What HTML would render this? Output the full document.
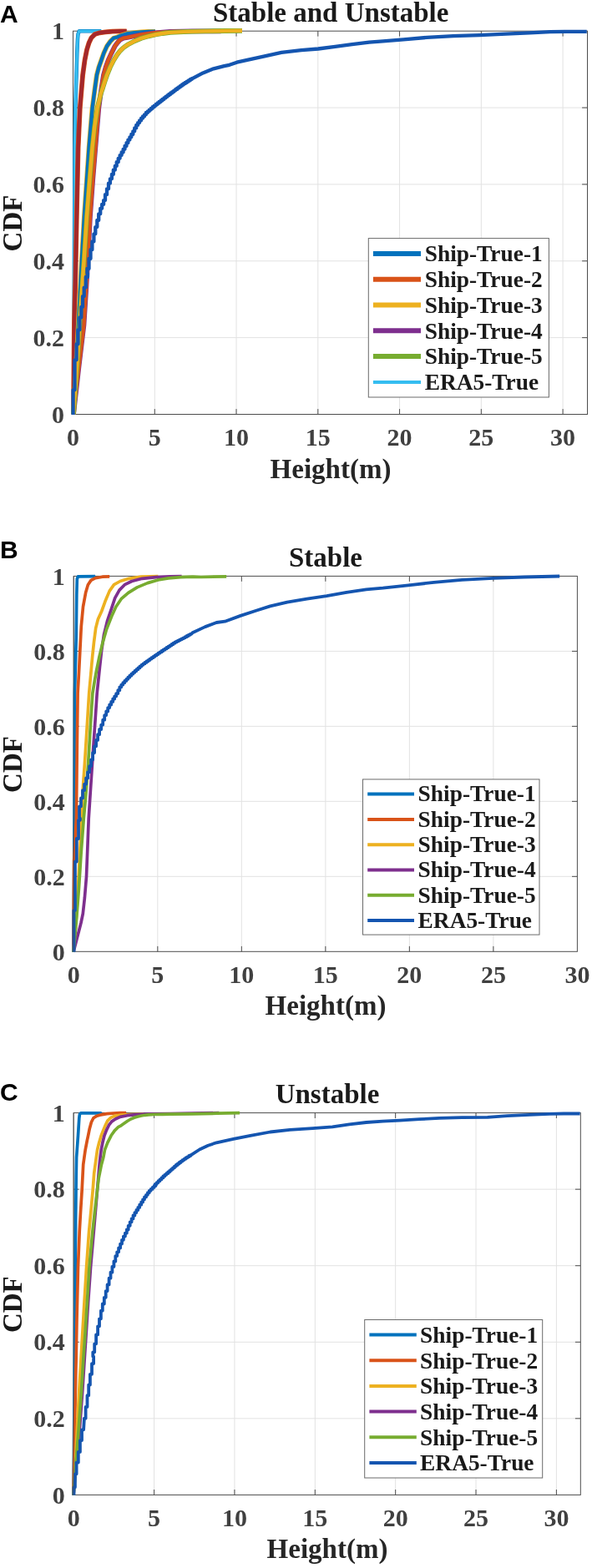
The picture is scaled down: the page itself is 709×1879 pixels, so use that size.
<!DOCTYPE html>
<html lang="en"><head><meta charset="utf-8"><title>CDF of Height</title>
<style>html,body{margin:0;padding:0;background:#fff}svg{display:block}text{font-family:'Liberation Serif', 'Times New Roman', serif;font-weight:bold}</style></head><body>
<svg width="709" height="1879" viewBox="0 0 709 1879">
<rect width="709" height="1879" fill="#fff"/>
<g id="plotA">
<line x1="185.27" y1="37.20" x2="185.27" y2="496.50" stroke="#e2e2e2" stroke-width="1"/>
<line x1="283.03" y1="37.20" x2="283.03" y2="496.50" stroke="#e2e2e2" stroke-width="1"/>
<line x1="380.80" y1="37.20" x2="380.80" y2="496.50" stroke="#e2e2e2" stroke-width="1"/>
<line x1="478.57" y1="37.20" x2="478.57" y2="496.50" stroke="#e2e2e2" stroke-width="1"/>
<line x1="576.33" y1="37.20" x2="576.33" y2="496.50" stroke="#e2e2e2" stroke-width="1"/>
<line x1="674.10" y1="37.20" x2="674.10" y2="496.50" stroke="#e2e2e2" stroke-width="1"/>
<line x1="87.50" y1="404.64" x2="703.50" y2="404.64" stroke="#e2e2e2" stroke-width="1"/>
<line x1="87.50" y1="312.78" x2="703.50" y2="312.78" stroke="#e2e2e2" stroke-width="1"/>
<line x1="87.50" y1="220.92" x2="703.50" y2="220.92" stroke="#e2e2e2" stroke-width="1"/>
<line x1="87.50" y1="129.06" x2="703.50" y2="129.06" stroke="#e2e2e2" stroke-width="1"/>
<rect x="87.50" y="37.20" width="616.00" height="459.30" fill="none" stroke="#4d4d4d" stroke-width="1"/>
<text x="87.50" y="534.00" font-size="30" text-anchor="middle" fill="#404040">0</text>
<line x1="185.27" y1="496.50" x2="185.27" y2="490.10" stroke="#4d4d4d"/>
<line x1="185.27" y1="37.20" x2="185.27" y2="43.60" stroke="#4d4d4d"/>
<text x="185.27" y="534.00" font-size="30" text-anchor="middle" fill="#404040">5</text>
<line x1="283.03" y1="496.50" x2="283.03" y2="490.10" stroke="#4d4d4d"/>
<line x1="283.03" y1="37.20" x2="283.03" y2="43.60" stroke="#4d4d4d"/>
<text x="283.03" y="534.00" font-size="30" text-anchor="middle" fill="#404040">10</text>
<line x1="380.80" y1="496.50" x2="380.80" y2="490.10" stroke="#4d4d4d"/>
<line x1="380.80" y1="37.20" x2="380.80" y2="43.60" stroke="#4d4d4d"/>
<text x="380.80" y="534.00" font-size="30" text-anchor="middle" fill="#404040">15</text>
<line x1="478.57" y1="496.50" x2="478.57" y2="490.10" stroke="#4d4d4d"/>
<line x1="478.57" y1="37.20" x2="478.57" y2="43.60" stroke="#4d4d4d"/>
<text x="478.57" y="534.00" font-size="30" text-anchor="middle" fill="#404040">20</text>
<line x1="576.33" y1="496.50" x2="576.33" y2="490.10" stroke="#4d4d4d"/>
<line x1="576.33" y1="37.20" x2="576.33" y2="43.60" stroke="#4d4d4d"/>
<text x="576.33" y="534.00" font-size="30" text-anchor="middle" fill="#404040">25</text>
<line x1="674.10" y1="496.50" x2="674.10" y2="490.10" stroke="#4d4d4d"/>
<line x1="674.10" y1="37.20" x2="674.10" y2="43.60" stroke="#4d4d4d"/>
<text x="674.10" y="534.00" font-size="30" text-anchor="middle" fill="#404040">30</text>
<text x="77.00" y="506.70" font-size="30" text-anchor="end" fill="#404040">0</text>
<line x1="87.50" y1="404.64" x2="93.90" y2="404.64" stroke="#4d4d4d"/>
<line x1="703.50" y1="404.64" x2="697.10" y2="404.64" stroke="#4d4d4d"/>
<text x="77.00" y="414.84" font-size="30" text-anchor="end" fill="#404040">0.2</text>
<line x1="87.50" y1="312.78" x2="93.90" y2="312.78" stroke="#4d4d4d"/>
<line x1="703.50" y1="312.78" x2="697.10" y2="312.78" stroke="#4d4d4d"/>
<text x="77.00" y="322.98" font-size="30" text-anchor="end" fill="#404040">0.4</text>
<line x1="87.50" y1="220.92" x2="93.90" y2="220.92" stroke="#4d4d4d"/>
<line x1="703.50" y1="220.92" x2="697.10" y2="220.92" stroke="#4d4d4d"/>
<text x="77.00" y="231.12" font-size="30" text-anchor="end" fill="#404040">0.6</text>
<line x1="87.50" y1="129.06" x2="93.90" y2="129.06" stroke="#4d4d4d"/>
<line x1="703.50" y1="129.06" x2="697.10" y2="129.06" stroke="#4d4d4d"/>
<text x="77.00" y="139.26" font-size="30" text-anchor="end" fill="#404040">0.8</text>
<text x="77.00" y="47.40" font-size="30" text-anchor="end" fill="#404040">1</text>
<g fill="none" stroke-linejoin="round" stroke-linecap="butt" clip-path="none">
<polyline points="88.0,496.3 88.9,327.0 89.5,177.0 90.3,129.3 91.5,90.0 92.3,63.9 93.0,46.9 93.5,41.0 94.8,37.2 121.2,37.2" stroke="#0072BD" stroke-width="4.5"/>
<polyline points="88.0,496.3 88.9,327.0 89.5,177.0 90.3,129.3 91.5,90.0 92.3,63.9 93.0,46.9 93.5,41.0 94.8,37.2 121.2,37.2" stroke="#35BDF0" stroke-width="3.4"/>
<polyline points="88.0,496.3 88.9,390.0 90.2,340.0 91.0,300.0 91.8,260.0 93.6,177.0 95.8,129.3 97.4,110.0 99.1,90.0 101.5,72.3 104.0,59.6 106.6,51.2 109.4,45.3 113.6,41.1 119.5,39.3 126.3,38.4 134.8,37.7 144.0,37.4 151.6,37.4" stroke="#D95319" stroke-width="5.8"/>
<polyline points="88.0,496.3 88.9,390.0 90.2,340.0 91.0,300.0 91.8,260.0 93.6,177.0 95.8,129.3 97.4,110.0 99.1,90.0 101.5,72.3 104.0,59.6 106.6,51.2 109.4,45.3 113.6,41.1 119.5,39.3 126.3,38.4 134.8,37.7 144.0,37.4 151.6,37.4" stroke="#A3282C" stroke-width="4.6"/>
<polyline points="88.0,496.3 93.3,400.0 98.0,310.0 100.9,260.0 104.0,215.0 106.6,177.0 110.6,129.3 112.1,118.0 113.8,105.0 115.9,90.0 118.3,80.8 121.3,72.3 124.2,63.9 128.0,55.4 132.2,49.5 136.0,45.7 140.3,44.5 144.4,42.8 152.5,40.4 161.0,39.1 169.4,38.4 178.0,38.0 186.0,37.8" stroke="#EDB120" stroke-width="5.8"/>
<polyline points="88.0,496.3 93.3,400.0 98.0,310.0 100.9,260.0 104.0,215.0 106.6,177.0 110.6,129.3 112.1,118.0 113.8,105.0 115.9,90.0 118.3,80.8 121.3,72.3 124.2,63.9 128.0,55.4 132.2,49.5 136.0,45.7 140.3,44.5 144.4,42.8 152.5,40.4 161.0,39.1 169.4,38.4 178.0,38.0 186.0,37.8" stroke="#0072BD" stroke-width="4.4"/>
<polyline points="88.0,496.3 94.4,440.0 100.4,390.0 103.6,340.0 105.4,310.0 107.9,260.0 111.2,215.0 114.3,177.0 118.3,129.3 120.6,112.0 124.0,90.0 126.6,80.8 129.6,72.3 133.4,63.9 137.6,55.4 140.4,51.5 143.8,47.8 148.0,45.6 152.5,45.0 161.0,43.1 169.4,41.5 178.0,40.3 186.3,39.3 194.8,38.6 204.0,37.9 230.0,37.4 264.6,37.3" stroke="#7E2F8E" stroke-width="5.8"/>
<polyline points="88.0,496.3 94.4,440.0 100.4,390.0 103.6,340.0 105.4,310.0 107.9,260.0 111.2,215.0 114.3,177.0 118.3,129.3 120.6,112.0 124.0,90.0 126.6,80.8 129.6,72.3 133.4,63.9 137.6,55.4 140.4,51.5 143.8,47.8 148.0,45.6 152.5,45.0 161.0,43.1 169.4,41.5 178.0,40.3 186.3,39.3 194.8,38.6 204.0,37.9 230.0,37.4 264.6,37.3" stroke="#D95319" stroke-width="4.4"/>
<polyline points="88.0,496.3 93.5,420.0 98.6,340.0 100.7,310.0 103.9,260.0 107.4,215.0 110.5,177.0 113.2,152.0 116.6,129.3 120.8,112.0 123.2,105.0 125.4,98.0 128.1,90.0 131.8,80.8 136.1,72.3 140.3,65.5 144.0,60.8 148.0,57.0 152.5,53.8 161.0,49.2 169.4,45.8 178.0,43.3 186.3,41.5 194.8,40.0 204.0,38.9 225.0,37.9 246.0,37.4 270.0,37.0 290.0,36.8" stroke="#77AC30" stroke-width="5.8"/>
<polyline points="88.0,496.3 93.5,420.0 98.6,340.0 100.7,310.0 103.9,260.0 107.4,215.0 110.5,177.0 113.2,152.0 116.6,129.3 120.8,112.0 123.2,105.0 125.4,98.0 128.1,90.0 131.8,80.8 136.1,72.3 140.3,65.5 144.0,60.8 148.0,57.0 152.5,53.8 161.0,49.2 169.4,45.8 178.0,43.3 186.3,41.5 194.8,40.0 204.0,38.9 225.0,37.9 246.0,37.4 270.0,37.0 290.0,36.8" stroke="#EDB120" stroke-width="4.4"/>
<polyline points="87.6,496.9 87.6,467.3 89.5,467.3 89.5,431.3 91.6,431.3 91.6,412.3 93.5,412.3 93.5,395.3 95.4,395.3 95.4,380.5 97.3,380.5 97.3,367.8 99.0,367.8 99.0,355.1 100.7,355.1 100.7,344.6 102.8,344.6 102.8,331.9 105.0,331.9 105.0,327.6 104.5,327.6 104.5,321.9 106.5,321.9 106.5,310.0 108.5,310.0 108.5,299.2 110.4,299.2 110.4,289.4 112.4,289.4 112.4,280.3 114.3,280.3 114.3,272.1 116.3,272.1 116.3,264.0 118.2,264.0 118.2,256.3 120.2,256.3 120.2,249.8 122.1,249.8 122.1,244.9 124.1,244.9 124.1,240.1 126.0,240.1 126.0,233.2 128.0,233.2 128.0,226.3 130.0,226.3 130.0,219.7 131.9,219.7 131.9,214.3 133.9,214.3 133.9,208.9 135.8,208.9 135.8,203.7 137.8,203.7 137.8,198.9 139.7,198.9 139.7,194.2 141.7,194.2 141.7,189.8 143.6,189.8 143.6,186.1 145.6,186.1 145.6,182.5 147.6,182.5 147.6,178.8 149.5,178.8 149.5,175.0 151.5,175.0 151.5,171.2 153.4,171.2 153.4,167.6 155.4,167.6 155.4,164.3 157.3,164.3 157.3,161.0 159.3,161.0 159.3,157.3 161.2,157.3 161.2,153.4 163.2,153.4 163.2,149.9 165.1,149.9 165.1,147.1 167.1,147.1 167.1,144.3 169.1,144.3 169.1,141.7 171.0,141.7 171.0,139.5 173.0,139.5 173.0,137.3 174.9,137.3 174.9,135.0 176.9,135.0 176.9,133.3 178.8,133.3 178.8,131.6 180.8,131.6 180.8,129.9 182.7,129.9 182.7,128.2 184.7,128.2 184.7,126.6 186.7,126.6 186.7,125.0 188.6,125.0 188.6,123.5 190.6,123.5 190.6,122.0 192.5,122.0 192.5,120.5 194.5,120.5 194.5,119.0 196.4,119.0 196.4,117.4 198.4,117.4 198.4,115.9 200.3,115.9 200.3,114.4 202.3,114.4 202.3,113.0 204.2,113.0 204.2,111.5 206.2,111.5 206.2,110.1 208.2,110.1 208.2,108.6 210.1,108.6 210.1,107.2 212.1,107.2 212.1,105.7 214.0,105.7 214.0,104.3 216.0,104.3 216.0,102.9 217.9,102.9 217.9,101.5 219.9,101.5 219.9,100.2 221.8,100.2 221.8,99.0 223.8,99.0 223.8,97.7 225.8,97.7 225.8,96.4 227.7,96.4 227.7,95.1 229.7,95.1 229.7,94.2 230.4,94.2 243.1,87.4 255.8,82.3 268.5,79.1 274.8,77.8 283.7,74.7 295.0,72.1 316.8,67.3 337.1,62.9 360.8,60.2 381.1,58.5 401.4,55.8 421.7,53.1 442.1,50.7 458.6,49.3 483.2,47.4 511.3,44.9 542.9,43.2 574.5,42.1 606.1,40.7 634.2,39.3 658.8,38.2 676.3,37.9 702.7,37.9" stroke="#1455B0" stroke-width="4.3"/>
</g>
<text x="396.20" y="25.60" font-size="33" text-anchor="middle" fill="#1a1a1a">Stable and Unstable</text>
<text x="396.00" y="572.80" font-size="33" text-anchor="middle" fill="#262626">Height(m)</text>
<text transform="translate(26.00 267.55) rotate(-90)" font-size="33" text-anchor="middle" fill="#1a1a1a">CDF</text>
<text x="0.00" y="26.90" font-size="30" fill="#000" style="font-family:'Liberation Sans', Arial, sans-serif">A</text>
<rect x="441.30" y="285.60" width="216.10" height="190.40" fill="#fff" stroke="#6a6a6a" stroke-width="1"/>
<line x1="446.90" y1="303.90" x2="504.00" y2="303.90" stroke="#0072BD" stroke-width="6"/>
<text x="508.70" y="313.20" font-size="27.4" fill="#1a1a1a">Ship-True-1</text>
<line x1="446.90" y1="334.70" x2="504.00" y2="334.70" stroke="#D95319" stroke-width="6"/>
<text x="508.70" y="344.00" font-size="27.4" fill="#1a1a1a">Ship-True-2</text>
<line x1="446.90" y1="365.50" x2="504.00" y2="365.50" stroke="#EDB120" stroke-width="6"/>
<text x="508.70" y="374.80" font-size="27.4" fill="#1a1a1a">Ship-True-3</text>
<line x1="446.90" y1="396.30" x2="504.00" y2="396.30" stroke="#7E2F8E" stroke-width="6"/>
<text x="508.70" y="405.60" font-size="27.4" fill="#1a1a1a">Ship-True-4</text>
<line x1="446.90" y1="427.10" x2="504.00" y2="427.10" stroke="#77AC30" stroke-width="6"/>
<text x="508.70" y="436.40" font-size="27.4" fill="#1a1a1a">Ship-True-5</text>
<line x1="446.90" y1="457.90" x2="504.00" y2="457.90" stroke="#35BDF0" stroke-width="4"/>
<text x="508.70" y="467.20" font-size="27.4" fill="#1a1a1a">ERA5-True</text>
</g>
<g id="plotB">
<line x1="188.82" y1="690.40" x2="188.82" y2="1140.30" stroke="#e2e2e2" stroke-width="1"/>
<line x1="289.33" y1="690.40" x2="289.33" y2="1140.30" stroke="#e2e2e2" stroke-width="1"/>
<line x1="389.85" y1="690.40" x2="389.85" y2="1140.30" stroke="#e2e2e2" stroke-width="1"/>
<line x1="490.37" y1="690.40" x2="490.37" y2="1140.30" stroke="#e2e2e2" stroke-width="1"/>
<line x1="590.88" y1="690.40" x2="590.88" y2="1140.30" stroke="#e2e2e2" stroke-width="1"/>
<line x1="88.30" y1="1050.32" x2="691.40" y2="1050.32" stroke="#e2e2e2" stroke-width="1"/>
<line x1="88.30" y1="960.34" x2="691.40" y2="960.34" stroke="#e2e2e2" stroke-width="1"/>
<line x1="88.30" y1="870.36" x2="691.40" y2="870.36" stroke="#e2e2e2" stroke-width="1"/>
<line x1="88.30" y1="780.38" x2="691.40" y2="780.38" stroke="#e2e2e2" stroke-width="1"/>
<rect x="88.30" y="690.40" width="603.10" height="449.90" fill="none" stroke="#4d4d4d" stroke-width="1"/>
<text x="88.30" y="1177.80" font-size="30" text-anchor="middle" fill="#404040">0</text>
<line x1="188.82" y1="1140.30" x2="188.82" y2="1133.90" stroke="#4d4d4d"/>
<line x1="188.82" y1="690.40" x2="188.82" y2="696.80" stroke="#4d4d4d"/>
<text x="188.82" y="1177.80" font-size="30" text-anchor="middle" fill="#404040">5</text>
<line x1="289.33" y1="1140.30" x2="289.33" y2="1133.90" stroke="#4d4d4d"/>
<line x1="289.33" y1="690.40" x2="289.33" y2="696.80" stroke="#4d4d4d"/>
<text x="289.33" y="1177.80" font-size="30" text-anchor="middle" fill="#404040">10</text>
<line x1="389.85" y1="1140.30" x2="389.85" y2="1133.90" stroke="#4d4d4d"/>
<line x1="389.85" y1="690.40" x2="389.85" y2="696.80" stroke="#4d4d4d"/>
<text x="389.85" y="1177.80" font-size="30" text-anchor="middle" fill="#404040">15</text>
<line x1="490.37" y1="1140.30" x2="490.37" y2="1133.90" stroke="#4d4d4d"/>
<line x1="490.37" y1="690.40" x2="490.37" y2="696.80" stroke="#4d4d4d"/>
<text x="490.37" y="1177.80" font-size="30" text-anchor="middle" fill="#404040">20</text>
<line x1="590.88" y1="1140.30" x2="590.88" y2="1133.90" stroke="#4d4d4d"/>
<line x1="590.88" y1="690.40" x2="590.88" y2="696.80" stroke="#4d4d4d"/>
<text x="590.88" y="1177.80" font-size="30" text-anchor="middle" fill="#404040">25</text>
<text x="691.40" y="1177.80" font-size="30" text-anchor="middle" fill="#404040">30</text>
<text x="77.80" y="1150.50" font-size="30" text-anchor="end" fill="#404040">0</text>
<line x1="88.30" y1="1050.32" x2="94.70" y2="1050.32" stroke="#4d4d4d"/>
<line x1="691.40" y1="1050.32" x2="685.00" y2="1050.32" stroke="#4d4d4d"/>
<text x="77.80" y="1060.52" font-size="30" text-anchor="end" fill="#404040">0.2</text>
<line x1="88.30" y1="960.34" x2="94.70" y2="960.34" stroke="#4d4d4d"/>
<line x1="691.40" y1="960.34" x2="685.00" y2="960.34" stroke="#4d4d4d"/>
<text x="77.80" y="970.54" font-size="30" text-anchor="end" fill="#404040">0.4</text>
<line x1="88.30" y1="870.36" x2="94.70" y2="870.36" stroke="#4d4d4d"/>
<line x1="691.40" y1="870.36" x2="685.00" y2="870.36" stroke="#4d4d4d"/>
<text x="77.80" y="880.56" font-size="30" text-anchor="end" fill="#404040">0.6</text>
<line x1="88.30" y1="780.38" x2="94.70" y2="780.38" stroke="#4d4d4d"/>
<line x1="691.40" y1="780.38" x2="685.00" y2="780.38" stroke="#4d4d4d"/>
<text x="77.80" y="790.58" font-size="30" text-anchor="end" fill="#404040">0.8</text>
<text x="77.80" y="700.60" font-size="30" text-anchor="end" fill="#404040">1</text>
<g fill="none" stroke-linejoin="round" stroke-linecap="butt" clip-path="none">
<polyline points="88.0,1140.8 89.1,980.6 89.5,830.6 91.2,765.3 91.8,712.4 92.3,693.8 93.5,690.8 114.1,690.6" stroke="#0072BD" stroke-width="3.7"/>
<polyline points="88.0,1140.8 88.7,1031.4 91.4,980.6 92.3,894.1 93.1,830.6 94.4,807.6 95.8,780.1 97.3,750.5 99.5,727.2 102.6,710.3 105.4,700.7 109.0,695.4 114.3,692.7 122.7,691.2 131.2,690.8" stroke="#D95319" stroke-width="3.7"/>
<polyline points="88.0,1140.8 90.8,1107.6 92.9,1075.8 95.0,1033.5 97.8,980.6 99.3,944.9 101.4,915.3 104.1,872.9 106.7,830.6 108.8,807.6 110.7,786.4 112.5,769.5 114.7,752.6 117.4,742.0 121.7,732.5 125.9,720.8 131.2,708.1 136.5,700.7 143.9,696.5 154.5,693.3 169.3,691.2 189.4,690.6" stroke="#EDB120" stroke-width="3.7"/>
<polyline points="88.0,1140.8 97.1,1105.5 99.3,1094.9 101.4,1075.8 103.5,1050.5 105.0,1012.4 106.2,980.6 107.7,957.6 109.8,925.8 111.9,894.1 114.1,862.4 116.2,830.6 117.5,818.2 119.5,799.1 121.6,780.1 124.4,761.0 128.5,744.1 133.5,729.3 137.7,716.6 143.0,707.1 149.3,700.7 157.8,696.5 170.3,693.3 187.1,691.6 203.9,690.8 217.6,690.6" stroke="#7E2F8E" stroke-width="3.7"/>
<polyline points="88.0,1140.8 91.8,1099.1 94.4,1065.3 97.1,1022.9 100.3,980.6 102.4,957.6 105.6,915.3 108.8,862.4 110.9,830.6 113.3,816.0 115.6,803.3 119.1,786.4 122.6,771.6 127.4,754.7 133.6,738.8 138.8,727.2 145.2,717.7 153.7,710.3 164.2,703.9 176.8,698.6 189.2,695.0 201.7,692.9 216.4,691.6 231.0,691.2 240.8,691.5 271.2,690.8" stroke="#77AC30" stroke-width="3.7"/>
<polyline points="88.5,1140.8 88.5,1091.1 89.9,1091.1 89.9,1032.5 91.8,1032.5 91.8,1005.0 94.0,1005.0 94.0,982.8 95.9,982.8 95.9,980.6 95.0,980.6 95.0,966.3 97.0,966.3 97.0,956.4 99.0,956.4 99.0,947.1 101.1,947.1 101.1,939.6 103.1,939.6 103.1,932.4 105.1,932.4 105.1,925.3 107.1,925.3 107.1,918.1 109.1,918.1 109.1,910.3 111.1,910.3 111.1,902.1 113.1,902.1 113.1,894.3 115.1,894.3 115.1,886.9 117.1,886.9 117.1,880.2 119.1,880.2 119.1,874.0 121.2,874.0 121.2,868.6 123.2,868.6 123.2,862.7 125.2,862.7 125.2,857.1 127.2,857.1 127.2,852.5 129.2,852.5 129.2,848.1 131.2,848.1 131.2,844.5 133.2,844.5 133.2,840.9 135.2,840.9 135.2,837.5 137.2,837.5 137.2,834.3 139.2,834.3 139.2,831.1 141.3,831.1 141.3,827.2 143.3,827.2 143.3,823.3 145.3,823.3 145.3,820.6 147.3,820.6 147.3,818.2 149.3,818.2 149.3,815.9 151.3,815.9 151.3,813.8 153.3,813.8 153.3,811.7 155.3,811.7 155.3,809.7 157.3,809.7 157.3,807.7 159.3,807.7 159.3,805.8 161.4,805.8 161.4,804.0 163.4,804.0 163.4,802.2 165.4,802.2 165.4,800.4 167.4,800.4 167.4,798.6 169.4,798.6 169.4,796.8 171.4,796.8 171.4,795.4 173.4,795.4 173.4,793.9 175.4,793.9 175.4,792.5 177.4,792.5 177.4,791.1 179.4,791.1 179.4,789.6 181.5,789.6 181.5,788.2 183.5,788.2 183.5,786.8 185.5,786.8 185.5,785.4 187.5,785.4 187.5,784.1 189.5,784.1 189.5,782.7 191.5,782.7 191.5,781.4 193.5,781.4 193.5,780.0 195.5,780.0 195.5,778.7 197.5,778.7 197.5,777.4 199.5,777.4 199.5,776.0 201.6,776.0 201.6,774.7 203.6,774.7 203.6,773.3 205.6,773.3 205.6,772.0 207.6,772.0 207.6,770.7 209.6,770.7 209.6,769.4 211.6,769.4 211.6,768.4 213.6,768.4 213.6,767.3 215.6,767.3 215.6,766.3 217.6,766.3 217.6,765.3 219.6,765.3 219.6,764.3 221.7,764.3 221.7,763.2 223.7,763.2 223.7,762.0 225.7,762.0 225.7,760.8 227.7,760.8 227.7,759.8 229.2,759.8 230.5,758.2 245.7,751.1 259.3,746.0 269.4,744.7 288.0,737.9 306.7,731.8 323.6,726.4 343.9,721.6 367.6,717.6 391.3,714.2 415.0,709.8 438.7,706.4 458.6,704.7 489.1,701.3 519.6,697.9 553.4,694.9 590.7,692.9 627.9,691.5 670.2,690.5" stroke="#1455B0" stroke-width="3.8"/>
</g>
<line x1="88.10" y1="690.40" x2="88.10" y2="1140.30" stroke="#4d4d4d" stroke-width="0.7"/>
<text x="390.00" y="679.20" font-size="33" text-anchor="middle" fill="#1a1a1a">Stable</text>
<text x="390.00" y="1215.80" font-size="33" text-anchor="middle" fill="#262626">Height(m)</text>
<text transform="translate(26.00 916.05) rotate(-90)" font-size="33" text-anchor="middle" fill="#1a1a1a">CDF</text>
<text x="0.00" y="668.80" font-size="30" fill="#000" style="font-family:'Liberation Sans', Arial, sans-serif">B</text>
<rect x="434.50" y="933.90" width="211.50" height="186.20" fill="#fff" stroke="#6a6a6a" stroke-width="1"/>
<line x1="440.20" y1="951.60" x2="496.00" y2="951.60" stroke="#0072BD" stroke-width="4"/>
<text x="500.60" y="960.40" font-size="27.4" fill="#1a1a1a">Ship-True-1</text>
<line x1="440.20" y1="981.90" x2="496.00" y2="981.90" stroke="#D95319" stroke-width="4"/>
<text x="500.60" y="990.70" font-size="27.4" fill="#1a1a1a">Ship-True-2</text>
<line x1="440.20" y1="1012.20" x2="496.00" y2="1012.20" stroke="#EDB120" stroke-width="4"/>
<text x="500.60" y="1021.00" font-size="27.4" fill="#1a1a1a">Ship-True-3</text>
<line x1="440.20" y1="1042.50" x2="496.00" y2="1042.50" stroke="#7E2F8E" stroke-width="4"/>
<text x="500.60" y="1051.30" font-size="27.4" fill="#1a1a1a">Ship-True-4</text>
<line x1="440.20" y1="1072.80" x2="496.00" y2="1072.80" stroke="#77AC30" stroke-width="4"/>
<text x="500.60" y="1081.60" font-size="27.4" fill="#1a1a1a">Ship-True-5</text>
<line x1="440.20" y1="1103.10" x2="496.00" y2="1103.10" stroke="#1455B0" stroke-width="4"/>
<text x="500.60" y="1111.90" font-size="27.4" fill="#1a1a1a">ERA5-True</text>
</g>
<g id="plotC">
<line x1="184.57" y1="1333.60" x2="184.57" y2="1791.40" stroke="#e2e2e2" stroke-width="1"/>
<line x1="280.93" y1="1333.60" x2="280.93" y2="1791.40" stroke="#e2e2e2" stroke-width="1"/>
<line x1="377.30" y1="1333.60" x2="377.30" y2="1791.40" stroke="#e2e2e2" stroke-width="1"/>
<line x1="473.67" y1="1333.60" x2="473.67" y2="1791.40" stroke="#e2e2e2" stroke-width="1"/>
<line x1="570.03" y1="1333.60" x2="570.03" y2="1791.40" stroke="#e2e2e2" stroke-width="1"/>
<line x1="666.40" y1="1333.60" x2="666.40" y2="1791.40" stroke="#e2e2e2" stroke-width="1"/>
<line x1="88.20" y1="1699.84" x2="695.30" y2="1699.84" stroke="#e2e2e2" stroke-width="1"/>
<line x1="88.20" y1="1608.28" x2="695.30" y2="1608.28" stroke="#e2e2e2" stroke-width="1"/>
<line x1="88.20" y1="1516.72" x2="695.30" y2="1516.72" stroke="#e2e2e2" stroke-width="1"/>
<line x1="88.20" y1="1425.16" x2="695.30" y2="1425.16" stroke="#e2e2e2" stroke-width="1"/>
<rect x="88.20" y="1333.60" width="607.10" height="457.80" fill="none" stroke="#4d4d4d" stroke-width="1"/>
<text x="88.20" y="1828.90" font-size="30" text-anchor="middle" fill="#404040">0</text>
<line x1="184.57" y1="1791.40" x2="184.57" y2="1785.00" stroke="#4d4d4d"/>
<line x1="184.57" y1="1333.60" x2="184.57" y2="1340.00" stroke="#4d4d4d"/>
<text x="184.57" y="1828.90" font-size="30" text-anchor="middle" fill="#404040">5</text>
<line x1="280.93" y1="1791.40" x2="280.93" y2="1785.00" stroke="#4d4d4d"/>
<line x1="280.93" y1="1333.60" x2="280.93" y2="1340.00" stroke="#4d4d4d"/>
<text x="280.93" y="1828.90" font-size="30" text-anchor="middle" fill="#404040">10</text>
<line x1="377.30" y1="1791.40" x2="377.30" y2="1785.00" stroke="#4d4d4d"/>
<line x1="377.30" y1="1333.60" x2="377.30" y2="1340.00" stroke="#4d4d4d"/>
<text x="377.30" y="1828.90" font-size="30" text-anchor="middle" fill="#404040">15</text>
<line x1="473.67" y1="1791.40" x2="473.67" y2="1785.00" stroke="#4d4d4d"/>
<line x1="473.67" y1="1333.60" x2="473.67" y2="1340.00" stroke="#4d4d4d"/>
<text x="473.67" y="1828.90" font-size="30" text-anchor="middle" fill="#404040">20</text>
<line x1="570.03" y1="1791.40" x2="570.03" y2="1785.00" stroke="#4d4d4d"/>
<line x1="570.03" y1="1333.60" x2="570.03" y2="1340.00" stroke="#4d4d4d"/>
<text x="570.03" y="1828.90" font-size="30" text-anchor="middle" fill="#404040">25</text>
<line x1="666.40" y1="1791.40" x2="666.40" y2="1785.00" stroke="#4d4d4d"/>
<line x1="666.40" y1="1333.60" x2="666.40" y2="1340.00" stroke="#4d4d4d"/>
<text x="666.40" y="1828.90" font-size="30" text-anchor="middle" fill="#404040">30</text>
<text x="77.70" y="1801.60" font-size="30" text-anchor="end" fill="#404040">0</text>
<line x1="88.20" y1="1699.84" x2="94.60" y2="1699.84" stroke="#4d4d4d"/>
<line x1="695.30" y1="1699.84" x2="688.90" y2="1699.84" stroke="#4d4d4d"/>
<text x="77.70" y="1710.04" font-size="30" text-anchor="end" fill="#404040">0.2</text>
<line x1="88.20" y1="1608.28" x2="94.60" y2="1608.28" stroke="#4d4d4d"/>
<line x1="695.30" y1="1608.28" x2="688.90" y2="1608.28" stroke="#4d4d4d"/>
<text x="77.70" y="1618.48" font-size="30" text-anchor="end" fill="#404040">0.4</text>
<line x1="88.20" y1="1516.72" x2="94.60" y2="1516.72" stroke="#4d4d4d"/>
<line x1="695.30" y1="1516.72" x2="688.90" y2="1516.72" stroke="#4d4d4d"/>
<text x="77.70" y="1526.92" font-size="30" text-anchor="end" fill="#404040">0.6</text>
<line x1="88.20" y1="1425.16" x2="94.60" y2="1425.16" stroke="#4d4d4d"/>
<line x1="695.30" y1="1425.16" x2="688.90" y2="1425.16" stroke="#4d4d4d"/>
<text x="77.70" y="1435.36" font-size="30" text-anchor="end" fill="#404040">0.8</text>
<text x="77.70" y="1343.80" font-size="30" text-anchor="end" fill="#404040">1</text>
<g fill="none" stroke-linejoin="round" stroke-linecap="butt" clip-path="none">
<polyline points="88.0,1791.7 89.5,1625.6 90.5,1475.6 91.2,1410.3 91.6,1387.0 93.5,1360.8 94.8,1340.0 95.4,1335.4 96.8,1333.8 121.7,1333.8" stroke="#0072BD" stroke-width="3.7"/>
<polyline points="88.0,1791.7 89.9,1689.1 91.2,1625.6 92.0,1581.4 93.5,1517.9 95.2,1475.6 96.5,1452.6 98.1,1427.2 99.7,1395.5 100.9,1387.0 102.2,1377.8 104.3,1366.8 105.6,1360.8 107.3,1352.4 109.4,1344.8 111.9,1339.7 115.3,1337.6 119.5,1336.3 128.0,1334.6 144.0,1333.5 151.2,1333.5" stroke="#D95319" stroke-width="3.7"/>
<polyline points="88.0,1791.7 90.4,1752.6 92.5,1710.3 94.7,1667.9 97.2,1625.6 98.5,1602.6 101.0,1560.3 103.6,1517.9 106.6,1475.6 108.8,1452.6 111.1,1427.2 112.7,1406.0 115.3,1387.0 116.6,1377.8 118.7,1369.3 121.2,1360.8 123.8,1354.1 126.3,1348.2 128.8,1343.1 132.2,1339.7 136.5,1337.6 144.0,1336.3 155.0,1335.6 172.0,1335.1" stroke="#EDB120" stroke-width="3.7"/>
<polyline points="88.0,1791.7 91.2,1752.6 95.5,1710.3 98.7,1667.9 101.4,1625.6 102.9,1602.6 105.6,1560.3 108.6,1517.9 112.3,1475.6 115.0,1444.1 117.5,1414.5 119.1,1395.5 120.0,1387.0 121.2,1377.8 122.9,1369.3 125.0,1360.8 127.6,1354.1 130.5,1348.2 133.9,1343.9 138.2,1341.0 144.0,1338.4 152.5,1336.7 161.0,1335.9 169.4,1335.3 180.0,1334.9 204.0,1334.5 230.0,1334.2 262.3,1333.6" stroke="#7E2F8E" stroke-width="3.7"/>
<polyline points="88.0,1791.7 91.1,1752.6 94.3,1710.3 97.4,1667.9 100.0,1625.6 101.7,1602.6 104.4,1560.3 107.0,1517.9 110.9,1475.6 113.4,1452.6 115.9,1431.4 118.1,1412.4 121.5,1395.5 123.8,1387.0 125.5,1377.8 128.8,1369.3 133.1,1360.8 137.3,1354.9 141.5,1350.7 144.0,1349.4 148.2,1346.5 152.5,1343.5 156.7,1341.0 160.9,1339.3 165.2,1338.0 169.4,1337.0 173.6,1336.3 177.8,1335.9 184.6,1335.5 194.8,1335.4 204.0,1335.2 230.0,1334.8 260.0,1334.2 287.1,1333.7" stroke="#77AC30" stroke-width="3.7"/>
<polyline points="88.5,1791.7 88.5,1782.2 89.9,1782.2 89.9,1766.3 91.6,1766.3 91.6,1752.6 93.8,1752.6 93.8,1739.9 95.9,1739.9 95.9,1726.1 98.0,1726.1 98.0,1713.4 100.1,1713.4 100.9,1699.7 102.6,1699.7 102.6,1685.9 104.5,1685.9 104.5,1672.2 106.2,1672.2 106.2,1659.5 107.9,1659.5 107.9,1646.8 110.0,1646.8 110.0,1634.1 112.1,1634.1 112.1,1625.6 111.3,1625.6 111.3,1620.3 113.2,1620.3 113.2,1610.3 115.1,1610.3 115.1,1599.4 117.1,1599.4 117.1,1589.3 119.0,1589.3 119.0,1580.3 120.9,1580.3 120.9,1570.7 122.8,1570.7 122.8,1562.5 124.8,1562.5 124.8,1554.8 126.7,1554.8 126.7,1547.1 128.6,1547.1 128.6,1539.4 130.6,1539.4 130.6,1531.7 132.5,1531.7 132.5,1524.7 134.4,1524.7 134.4,1517.9 136.4,1517.9 136.4,1511.5 138.3,1511.5 138.3,1505.1 140.2,1505.1 140.2,1500.3 142.1,1500.3 142.1,1495.5 144.1,1495.5 144.1,1490.6 146.0,1490.6 146.0,1485.8 147.9,1485.8 147.9,1481.6 149.9,1481.6 149.9,1477.7 151.8,1477.7 151.8,1473.5 153.7,1473.5 153.7,1468.8 155.7,1468.8 155.7,1464.3 157.6,1464.3 157.6,1460.4 159.5,1460.4 159.5,1456.5 161.4,1456.5 161.4,1453.1 163.4,1453.1 163.4,1450.0 165.3,1450.0 165.3,1446.9 167.2,1446.9 167.2,1443.7 169.2,1443.7 169.2,1440.5 171.1,1440.5 171.1,1437.3 173.0,1437.3 173.0,1434.4 175.0,1434.4 175.0,1431.8 176.9,1431.8 176.9,1429.2 178.8,1429.2 178.8,1426.8 180.7,1426.8 180.7,1424.9 182.7,1424.9 182.7,1422.9 184.6,1422.9 184.6,1421.0 186.5,1421.0 185.7,1419.1 187.7,1419.1 187.7,1417.1 189.6,1417.1 189.6,1415.2 191.5,1415.2 191.5,1413.3 193.5,1413.3 193.5,1411.4 195.4,1411.4 195.4,1409.5 197.3,1409.5 197.3,1407.8 199.2,1407.8 199.2,1406.2 201.2,1406.2 201.2,1404.5 203.1,1404.5 203.1,1402.8 205.0,1402.8 205.0,1401.1 207.0,1401.1 207.0,1399.4 208.9,1399.4 208.9,1397.7 210.8,1397.7 210.8,1396.0 212.8,1396.0 212.8,1394.5 214.7,1394.5 214.7,1393.0 216.6,1393.0 216.6,1391.6 218.5,1391.6 218.5,1390.1 220.5,1390.1 220.5,1388.8 222.4,1388.8 222.4,1387.5 224.3,1387.5 224.3,1386.3 226.3,1386.3 226.3,1385.0 228.2,1385.0 228.2,1384.1 229.2,1384.1 228.8,1384.2 239.0,1377.5 249.1,1372.7 259.3,1369.3 279.6,1364.9 299.9,1360.9 323.6,1356.5 347.3,1353.8 374.4,1352.1 398.1,1350.4 418.4,1347.3 438.7,1345.0 458.6,1343.6 479.0,1342.6 502.7,1341.2 526.3,1339.9 553.4,1339.2 583.9,1338.9 607.6,1337.2 634.7,1335.8 658.4,1334.8 675.3,1334.5 694.6,1334.5" stroke="#1455B0" stroke-width="3.8"/>
</g>
<line x1="88.00" y1="1333.60" x2="88.00" y2="1791.40" stroke="#4d4d4d" stroke-width="0.7"/>
<text x="392.00" y="1322.20" font-size="33" text-anchor="middle" fill="#1a1a1a">Unstable</text>
<text x="392.00" y="1866.80" font-size="33" text-anchor="middle" fill="#262626">Height(m)</text>
<text transform="translate(26.00 1563.20) rotate(-90)" font-size="33" text-anchor="middle" fill="#1a1a1a">CDF</text>
<text x="0.00" y="1319.00" font-size="30" fill="#000" style="font-family:'Liberation Sans', Arial, sans-serif">C</text>
<rect x="436.70" y="1581.50" width="213.00" height="189.50" fill="#fff" stroke="#6a6a6a" stroke-width="1"/>
<line x1="442.40" y1="1599.50" x2="498.80" y2="1599.50" stroke="#0072BD" stroke-width="4"/>
<text x="503.10" y="1608.90" font-size="27.4" fill="#1a1a1a">Ship-True-1</text>
<line x1="442.40" y1="1630.20" x2="498.80" y2="1630.20" stroke="#D95319" stroke-width="4"/>
<text x="503.10" y="1639.60" font-size="27.4" fill="#1a1a1a">Ship-True-2</text>
<line x1="442.40" y1="1660.90" x2="498.80" y2="1660.90" stroke="#EDB120" stroke-width="4"/>
<text x="503.10" y="1670.30" font-size="27.4" fill="#1a1a1a">Ship-True-3</text>
<line x1="442.40" y1="1691.60" x2="498.80" y2="1691.60" stroke="#7E2F8E" stroke-width="4"/>
<text x="503.10" y="1701.00" font-size="27.4" fill="#1a1a1a">Ship-True-4</text>
<line x1="442.40" y1="1722.30" x2="498.80" y2="1722.30" stroke="#77AC30" stroke-width="4"/>
<text x="503.10" y="1731.70" font-size="27.4" fill="#1a1a1a">Ship-True-5</text>
<line x1="442.40" y1="1753.00" x2="498.80" y2="1753.00" stroke="#1455B0" stroke-width="4"/>
<text x="503.10" y="1762.40" font-size="27.4" fill="#1a1a1a">ERA5-True</text>
</g>
</svg></body></html>
